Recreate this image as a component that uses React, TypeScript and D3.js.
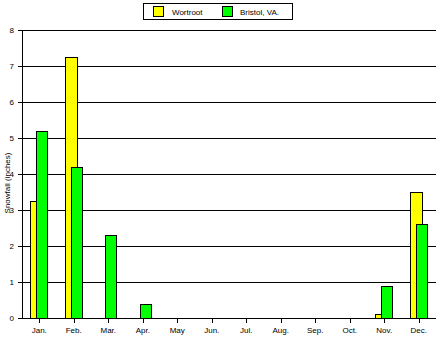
import React from "react";
import * as d3 from "d3";

const months = ["Jan.", "Feb.", "Mar.", "Apr.", "May", "Jun.", "Jul.", "Aug.", "Sep.", "Oct.", "Nov.", "Dec."];
const wortroot = [3.25, 7.25, 0, 0, 0, 0, 0, 0, 0, 0, 0.1, 3.5];
const bristol = [5.2, 4.2, 2.3, 0.4, 0, 0, 0, 0, 0, 0, 0.9, 2.6];
const yTicks = [0, 1, 2, 3, 4, 5, 6, 7, 8];
const seriesNames = ["Wortroot", "Bristol, VA."];
const colors = ["#ffff00", "#00ff00"];

export default function App() {
  const W = 443, H = 338;
  const left = 22, right = 436, top = 30, bottom = 318;
  const x = d3.scaleBand<string>().domain(months).range([left, right]);
  const y = d3.scaleLinear().domain([0, 8]).range([bottom, top]);
  const font = "'Liberation Sans', Arial, sans-serif";
  const c = (m: string) => (x(m) as number) + x.bandwidth() / 2;

  return (
    <svg width={W} height={H} style={{ position: "absolute", left: 0, top: 0, background: "#fff" }} fontFamily={font}>
      <rect x={0} y={0} width={W} height={H} fill="#fff" />
      {/* gridlines */}
      {yTicks.slice(1).map((t) => (
        <line key={t} x1={left} x2={right} y1={Math.round(y(t)) + 0.5} y2={Math.round(y(t)) + 0.5} stroke="#000" strokeWidth={1} />
      ))}
      {/* bars */}
      {months.map((m, i) => {
        const cx = Math.round(c(m));
        const els = [];
        if (wortroot[i] > 0) {
          const yy = Math.round(y(wortroot[i]));
          els.push(
            <rect key={"w" + i} x={cx - 9 + 0.5} y={yy + 0.5} width={12} height={Math.round(y(0)) - yy} fill={colors[0]} stroke="#000" strokeWidth={1} />
          );
        }
        if (bristol[i] > 0) {
          const yy = Math.round(y(bristol[i]));
          els.push(
            <rect key={"b" + i} x={cx - 3 + 0.5} y={yy + 0.5} width={11} height={Math.round(y(0)) - yy} fill={colors[1]} stroke="#000" strokeWidth={1} />
          );
        }
        return <g key={m}>{els}</g>;
      })}
      {/* axes */}
      <line x1={left + 0.5} x2={left + 0.5} y1={top} y2={bottom + 1} stroke="#000" />
      <line x1={left} x2={right} y1={bottom + 0.5} y2={bottom + 0.5} stroke="#000" />
      {yTicks.map((t) => (
        <g key={t}>
          <line x1={left - 4} x2={left} y1={Math.round(y(t)) + 0.5} y2={Math.round(y(t)) + 0.5} stroke="#000" />
          <text x={14} y={y(t) + 3} fontSize={8} textAnchor="end">{t}</text>
        </g>
      ))}
      {months.map((m) => (
        <g key={m}>
          <line x1={Math.round(c(m)) + 0.5} x2={Math.round(c(m)) + 0.5} y1={bottom} y2={bottom + 5} stroke="#000" />
          <text x={c(m)} y={333} fontSize={8} textAnchor="middle">{m}</text>
        </g>
      ))}
      <text transform="translate(10,183) rotate(-90)" fontSize={8} textAnchor="middle">Snowfall (inches)</text>
      {/* legend */}
      <rect x={143.5} y={3.5} width={149} height={16} fill="#fff" stroke="#000" />
      <rect x={153.5} y={6.5} width={10} height={10} fill={colors[0]} stroke="#000" />
      <text x={172} y={14.5} fontSize={8}>{seriesNames[0]}</text>
      <rect x={222.5} y={6.5} width={10} height={10} fill={colors[1]} stroke="#000" />
      <text x={240} y={14.5} fontSize={8}>{seriesNames[1]}</text>
    </svg>
  );
}
